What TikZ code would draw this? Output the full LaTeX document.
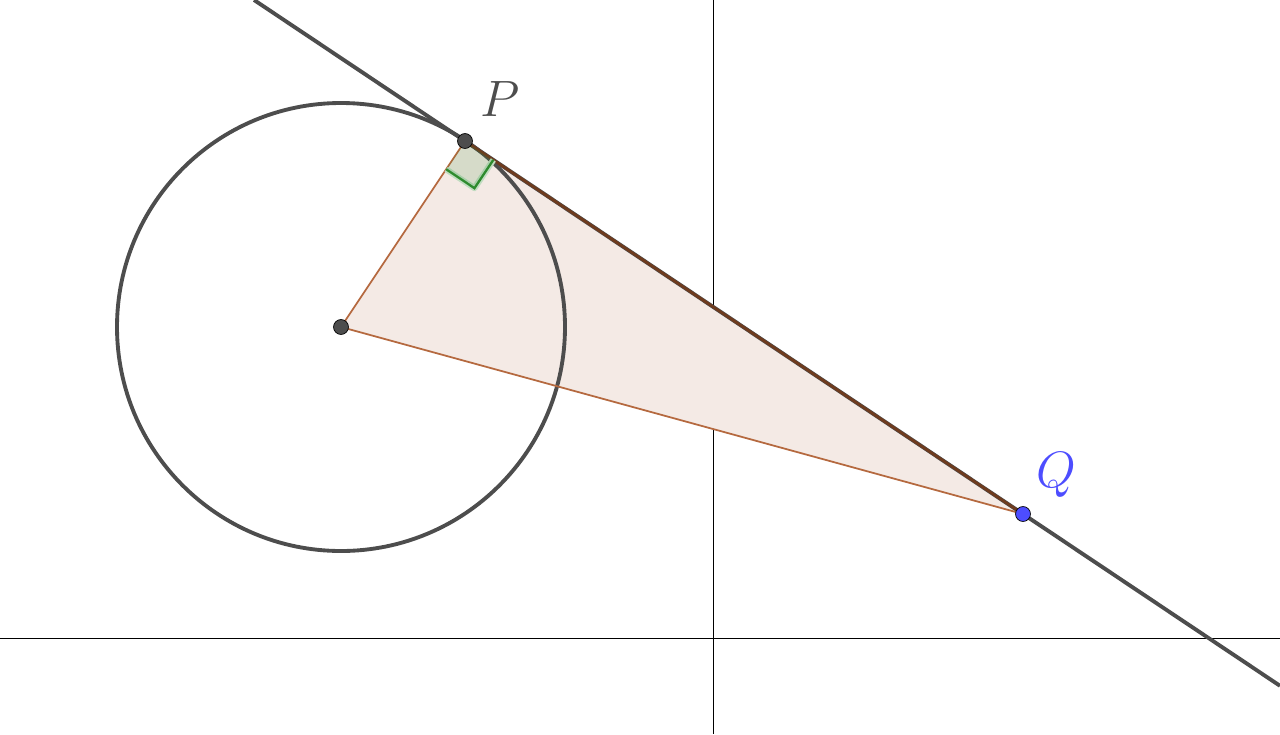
\documentclass[tikz,border=0pt]{standalone}
\usepackage{tikz}
\usetikzlibrary{calc}
\definecolor{ptgray}{HTML}{4D4D4D}
\definecolor{edgebrown}{HTML}{B5693F}
\definecolor{darkbrown}{HTML}{6E3B1E}
\definecolor{trifill}{HTML}{F4EAE5}
\definecolor{qblue}{HTML}{4D4DFF}
\definecolor{rightgreen}{HTML}{2E8B2E}

\begin{document}
\begin{tikzpicture}[x=0.02cm, y=-0.02cm,
    dot/.style={circle, draw=black, line width=0.4pt, minimum size=8.5pt, inner sep=0pt},
    lbl/.style={font=\Huge, scale=1.17}]
        \useasboundingbox (0,0) rectangle (1280,734);
        % Points
        \coordinate (C) at (341,327);
        \coordinate (P) at (465,141);
        \coordinate (Q) at (1023,514);
        % Axes
        \draw[black, line width=0.55pt] (0,638) -- (1280,638);
        \draw[black, line width=0.55pt] (713,0) -- (713,734);
        % Triangle
        \fill[trifill] (C) -- (P) -- (Q) -- cycle;
        % Circle
        \draw[ptgray, line width=2.2pt] (C) circle (224);
        % Tangent line
        \coordinate (T1) at ($(P)!-0.378!(Q)$);
        \coordinate (T2) at ($(P)!1.4606!(Q)$);
        \draw[ptgray, line width=2.2pt] (T1) -- (T2);
        % Triangle edges
        \draw[edgebrown, line width=1pt] (P) -- (C) -- (Q);
        \draw[darkbrown, line width=1.6pt] (P) -- (Q);
        % Right angle mark
        \coordinate (A1) at ($(P)!0.152!(C)$);
        \coordinate (A2) at ($(P)!0.0507!(Q)$);
        \coordinate (A3) at ($(A1)+(A2)-(P)$);
        \draw[rightgreen!30, line width=3.4pt, line join=round] (A1) -- (A3) -- (A2);
        \fill[rightgreen, opacity=0.15] (P) -- (A1) -- (A3) -- (A2) -- cycle;
        \draw[rightgreen, line width=1.3pt] (A1) -- (A3) -- (A2);
        % Dots and labels
        \node[dot, fill=ptgray] (c) at (C) {};
        \node[dot, fill=ptgray] (p) at (P) {};
        \node[dot, fill=qblue] (q) at (Q) {};
        \node[lbl, text=ptgray] (plbl) at (500,99) {$P$};
        \node[lbl, text=qblue] (qlbl) at (1056,475) {$Q$};
    \end{tikzpicture}
\end{document}
